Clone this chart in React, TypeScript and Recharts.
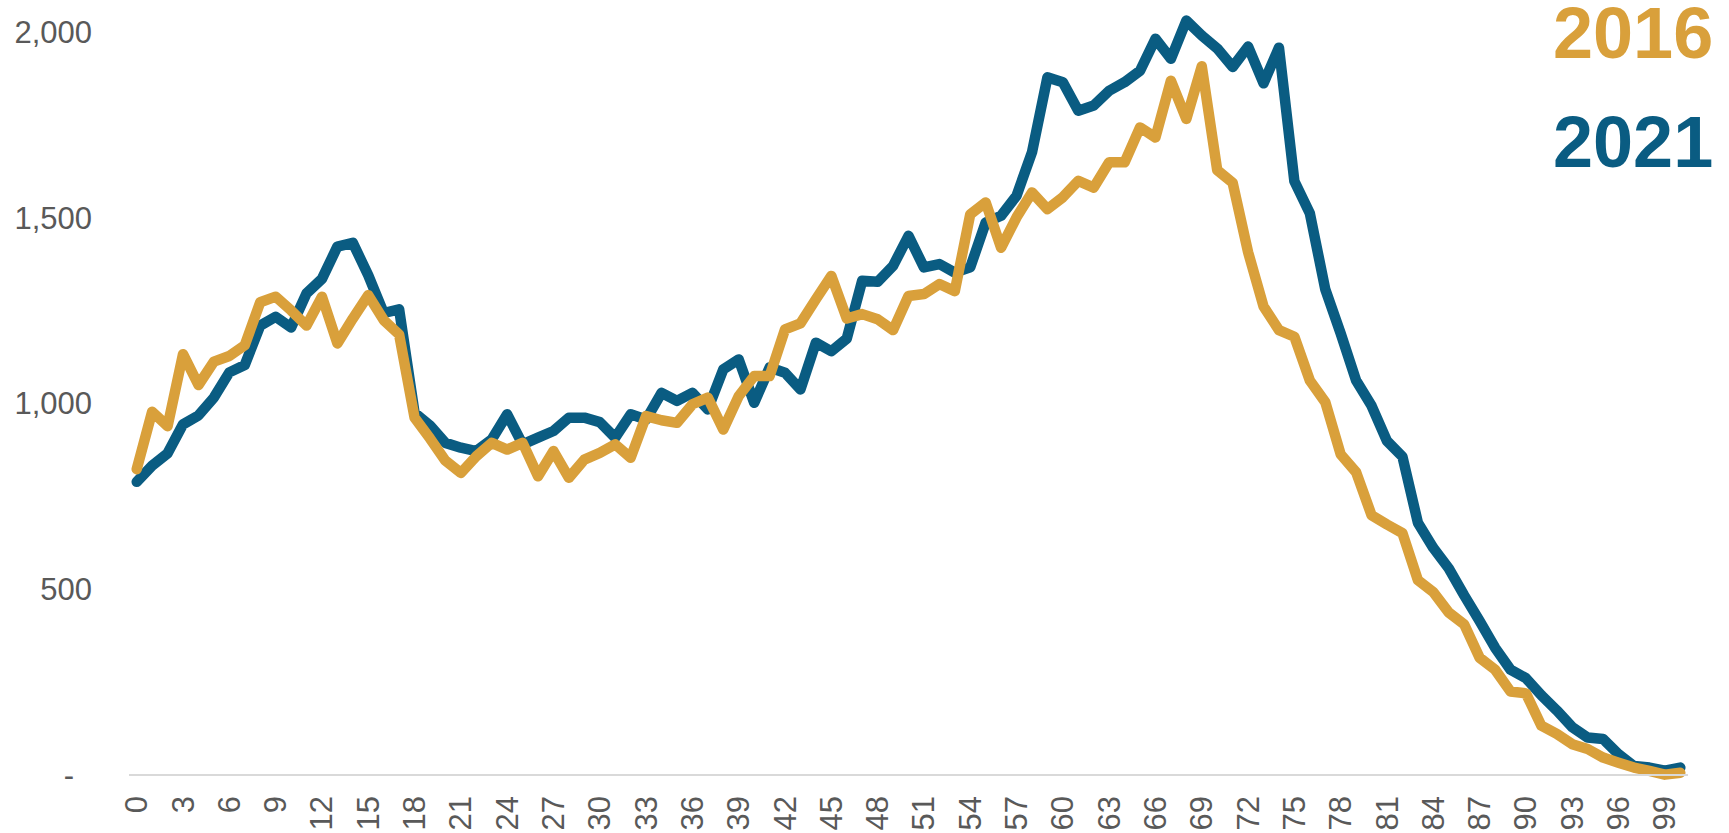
import { Line, LineChart, XAxis, YAxis } from "recharts";

// Population by single year of age.
const COUNT_2016 = [
  824, 979, 940, 1134, 1051, 1114, 1129, 1158, 1274, 1289,
  1252, 1211, 1289, 1163, 1230, 1293, 1226, 1187, 963, 907,
  847, 814, 859, 895, 877, 895, 805, 873, 801, 850,
  868, 891, 855, 967, 956, 949, 999, 1017, 931, 1021,
  1075, 1075, 1201, 1217, 1282, 1345, 1230, 1242, 1228, 1199,
  1291, 1296, 1323, 1304, 1511, 1543, 1421, 1503, 1570, 1525,
  1557, 1601, 1583, 1651, 1651, 1745, 1718, 1871, 1768, 1910,
  1630, 1596, 1409, 1263, 1199, 1181, 1063, 1005, 864, 816,
  700, 675, 652, 525, 493, 438, 406, 316, 284, 225,
  220, 133, 111, 83, 70, 47, 33, 20, 11, 1,
  6,
];

const COUNT_2021 = [
  790, 834, 867, 945, 969, 1017, 1085, 1105, 1211, 1235,
  1206, 1298, 1337, 1424, 1434, 1347, 1245, 1255, 976, 942,
  895, 882, 873, 904, 972, 891, 909, 927, 963, 963,
  951, 909, 972, 958, 1030, 1008, 1030, 985, 1093, 1120,
  1003, 1098, 1084, 1039, 1165, 1142, 1176, 1332, 1329, 1372,
  1453, 1368, 1377, 1354, 1368, 1489, 1507, 1561, 1678, 1880,
  1867, 1790, 1804, 1844, 1867, 1898, 1984, 1930, 2033, 1993,
  1958, 1908, 1963, 1864, 1960, 1600, 1514, 1309, 1190, 1063,
  995, 900, 858, 680, 612, 557, 484, 415, 343, 284,
  261, 215, 174, 129, 101, 97, 56, 24, 20, 12,
  20,
];

const AGE_TICKS = [
  0, 3, 6, 9, 12, 15, 18, 21, 24, 27, 30, 33, 36, 39, 42, 45, 48,
  51, 54, 57, 60, 63, 66, 69, 72, 75, 78, 81, 84, 87, 90, 93, 96, 99,
];
const COUNT_TICKS = [0, 500, 1000, 1500, 2000];
const YEAR_LABELS = ["2016", "2021"];

const GOLD = "#D9A03B";
const BLUE = "#0A5C82";
const AXIS_TEXT = "#595959";
const FONT = '"Liberation Sans", Arial, Helvetica, sans-serif';

// one row per age, index = age
const rows = COUNT_2016.map((v, age) => ({
  age,
  y2016: v,
  y2021: COUNT_2021[age],
}));

function CountTick({ y, payload }: { y: number; payload: { value: number } }) {
  const v = payload.value;
  // accounting style: zero shows as a dash, padded in from the right
  return (
    <text
      x={v === 0 ? 74 : 92}
      y={y}
      textAnchor="end"
      dominantBaseline="central"
      fill={AXIS_TEXT}
      fontSize={31}
      fontFamily={FONT}
    >
      {v === 0 ? "-" : v.toLocaleString("en-US")}
    </text>
  );
}

function AgeTick({ x, payload }: { x: number; payload: { value: number } }) {
  return (
    <text
      transform={`translate(${x}, 796) rotate(-90)`}
      textAnchor="end"
      dominantBaseline="central"
      fill={AXIS_TEXT}
      fontSize={31}
      fontFamily={FONT}
    >
      {payload.value}
    </text>
  );
}

export default function App() {
  return (
    <div
      style={{
        position: "absolute",
        left: 0,
        top: 0,
        width: 1729,
        height: 833,
        background: "#fff",
      }}
    >
      <LineChart
        width={1729}
        height={833}
        data={rows}
        margin={{ top: 18, right: 41, bottom: 0, left: 0 }}
      >
        <XAxis
          type="number"
          dataKey="age"
          domain={[-0.5, 100.5]}
          ticks={AGE_TICKS}
          interval={0}
          height={58}
          tickLine={false}
          axisLine={{ stroke: "#D9D9D9", strokeWidth: 2 }}
          tick={AgeTick}
        />
        <YAxis
          type="number"
          domain={[0, 2040]}
          ticks={COUNT_TICKS}
          interval={0}
          width={129}
          tickLine={false}
          axisLine={false}
          tick={CountTick}
        />
        {/* 2016 sits on top of 2021 where they cross */}
        <Line
          type="linear"
          dataKey="y2021"
          stroke={BLUE}
          strokeWidth={10.5}
          strokeLinejoin="round"
          strokeLinecap="round"
          dot={false}
          activeDot={false}
          isAnimationActive={false}
        />
        <Line
          type="linear"
          dataKey="y2016"
          stroke={GOLD}
          strokeWidth={10.5}
          strokeLinejoin="round"
          strokeLinecap="round"
          dot={false}
          activeDot={false}
          isAnimationActive={false}
        />
      </LineChart>

      {/* year labels act as the legend, top right */}
      <svg
        width={1729}
        height={833}
        style={{ position: "absolute", left: 0, top: 0, pointerEvents: "none" }}
      >
        <text x={1553} y={58} fill={GOLD} fontSize={72} fontWeight="bold" fontFamily={FONT}>
          {YEAR_LABELS[0]}
        </text>
        <text x={1553} y={167} fill={BLUE} fontSize={72} fontWeight="bold" fontFamily={FONT}>
          {YEAR_LABELS[1]}
        </text>
      </svg>
    </div>
  );
}
